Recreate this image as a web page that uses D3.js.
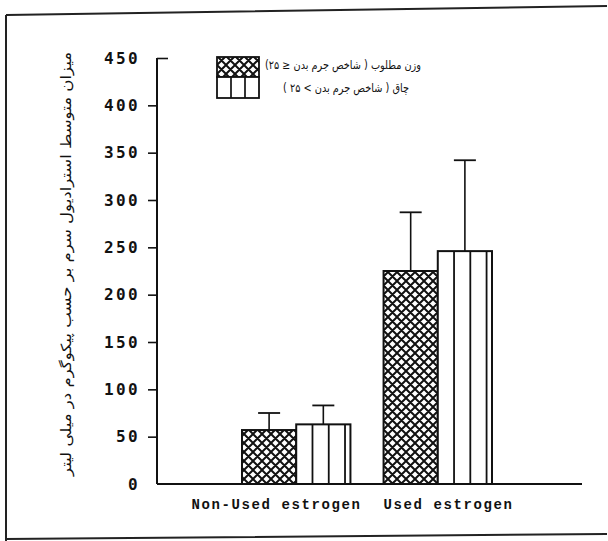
<!DOCTYPE html>
<html>
<head>
<meta charset="utf-8">
<script src="https://cdn.jsdelivr.net/npm/d3@7"></script>
<style>
  body { margin: 0; background: #fff; }
</style>
</head>
<body>
<div id="chart"></div>
<script>
const categories = ["Non-Used estrogen", "Used estrogen"];
const seriesNames = ["وزن مطلوب ( شاخص جرم بدن ≤ ۲۵)", "چاق ( شاخص جرم بدن > ۲۵ )"];
const normalMeans = [57, 225];
const normalErrTops = [75, 287];
const obeseMeans = [63, 246];
const obeseErrTops = [83, 342];
const yTicks = [0, 50, 100, 150, 200, 250, 300, 350, 400, 450];
const yLabel = "میزان متوسط استرادیول سرم بر حسب پیکوگرم در میلی لیتر";

const width = 608, height = 541;

const svg = d3.select("#chart").append("svg")
    .attr("width", width)
    .attr("height", height);

const defs = svg.append("defs");
const hatch = defs.append("pattern")
    .attr("id", "hatch")
    .attr("patternUnits", "userSpaceOnUse")
    .attr("width", 9)
    .attr("height", 9)
    .attr("x", 1).attr("y", 2);
hatch.append("rect").attr("width", 9).attr("height", 9).attr("fill", "#fff");
hatch.append("path")
    .attr("d", "M0,0 L9,9 M9,0 L0,9 M-1,8 L1,10 M8,-1 L10,1 M-1,1 L1,-1 M8,10 L10,8")
    .attr("stroke", "#111")
    .attr("stroke-width", 2);

// outer frame (the scan is slightly skewed)
svg.append("path")
    .attr("d", "M6,15 L607,6 M6,15 L6,541 M5,539 L607,534")
    .attr("fill", "none")
    .attr("stroke", "#222")
    .attr("stroke-width", 2);

const y = d3.scaleLinear().domain([0, 450]).range([484, 58]);
const x = d3.scaleBand().domain(categories).range([242, 492]).paddingInner(0.234).paddingOuter(0);
const xs = d3.scaleBand().domain([0, 1]).range([0, x.bandwidth()]);

const rows = [];
categories.forEach((c, i) => {
    rows.push({ cat: c, s: 0, v: normalMeans[i], e: normalErrTops[i] });
    rows.push({ cat: c, s: 1, v: obeseMeans[i], e: obeseErrTops[i] });
});

// y axis
const axisX = 157;
const yAxis = svg.append("g")
    .attr("transform", `translate(${axisX},0)`)
    .call(d3.axisLeft(y).tickValues(yTicks).tickSize(9).tickPadding(8));
yAxis.select(".domain").attr("stroke", "#111").attr("stroke-width", 2).attr("d", `M0,${y(450)}V${y(0)}`);
yAxis.selectAll(".tick line").attr("stroke", "#111").attr("stroke-width", 1.6);
yAxis.selectAll(".tick").filter(d => d === 450).select("line").attr("x2", 11);
yAxis.selectAll(".tick").filter(d => d === 0).select("line").remove();
yAxis.selectAll(".tick text")
    .attr("font-family", "DejaVu Sans Mono")
    .attr("font-weight", "bold")
    .attr("font-size", 16)
    .attr("letter-spacing", 2.4)
    .attr("fill", "#111");

// x axis line
svg.append("line")
    .attr("x1", axisX).attr("x2", 582)
    .attr("y1", y(0)).attr("y2", y(0))
    .attr("stroke", "#111").attr("stroke-width", 2);

// bars
const bars = svg.append("g");
bars.selectAll("rect")
    .data(rows)
    .enter().append("rect")
    .attr("x", d => x(d.cat) + xs(d.s))
    .attr("y", d => y(d.v))
    .attr("width", xs.bandwidth())
    .attr("height", d => y(0) - y(d.v))
    .attr("fill", d => d.s === 0 ? "url(#hatch)" : "#fff")
    .attr("stroke", "#111")
    .attr("stroke-width", 2);

// vertical stripes for the obese series
const stripeSteps = [0.3, 0.6, 0.9];
rows.filter(d => d.s === 1).forEach(d => {
    stripeSteps.forEach(f => {
        const sx = x(d.cat) + xs(d.s) + xs.bandwidth() * f;
        bars.append("line")
            .attr("x1", sx).attr("x2", sx)
            .attr("y1", y(d.v)).attr("y2", y(0))
            .attr("stroke", "#111").attr("stroke-width", 1.8);
    });
});

// error bars
const capW = 22;
const err = svg.append("g");
rows.forEach(d => {
    const cx = x(d.cat) + xs(d.s) + xs.bandwidth() / 2;
    err.append("line")
        .attr("x1", cx).attr("x2", cx)
        .attr("y1", y(d.v)).attr("y2", y(d.e))
        .attr("stroke", "#111").attr("stroke-width", 1.6);
    err.append("line")
        .attr("x1", cx - capW / 2).attr("x2", cx + capW / 2)
        .attr("y1", y(d.e)).attr("y2", y(d.e))
        .attr("stroke", "#111").attr("stroke-width", 1.8);
});

// category labels
svg.selectAll(".xlab")
    .data(categories)
    .enter().append("text")
    .attr("class", "xlab")
    .attr("x", (d, i) => i === 0 ? x(d) + x.bandwidth() + 11 : x(d))
    .attr("y", 509)
    .attr("text-anchor", (d, i) => i === 0 ? "end" : "start")
    .attr("font-family", "Liberation Mono")
    .attr("font-weight", "bold")
    .attr("font-size", 14)
    .attr("letter-spacing", 1.6)
    .attr("fill", "#111")
    .text(d => d);

// y label
svg.append("text")
    .attr("transform", "translate(71,264) rotate(-90)")
    .attr("text-anchor", "middle")
    .attr("font-family", "DejaVu Sans")
    .attr("font-size", 14)
    .attr("textLength", 424)
    .attr("lengthAdjust", "spacingAndGlyphs")
    .attr("fill", "#111")
    .text(yLabel);

// legend
const legend = svg.append("g");
const swatchY = [57, 77];
const swatchH = [20, 21];
const legendRight = [421, 409];
const legendLen = [156, 126];
seriesNames.forEach((name, i) => {
    legend.append("rect")
        .attr("x", 217).attr("y", swatchY[i])
        .attr("width", 42).attr("height", swatchH[i])
        .attr("fill", i === 0 ? "url(#hatch)" : "#fff")
        .attr("stroke", "#111").attr("stroke-width", 1.8);
    if (i === 1) {
        [231, 245].forEach(lx => {
            legend.append("line")
                .attr("x1", lx).attr("x2", lx)
                .attr("y1", swatchY[i]).attr("y2", swatchY[i] + swatchH[i])
                .attr("stroke", "#111").attr("stroke-width", 1.7);
        });
    }
    legend.append("text")
        .attr("x", legendRight[i] - legendLen[i])
        .attr("y", i === 0 ? 69 : 92)
        .attr("text-anchor", "start")
        .attr("font-family", "DejaVu Sans")
        .attr("font-size", 11.5)
        .attr("textLength", legendLen[i])
        .attr("lengthAdjust", "spacingAndGlyphs")
        .attr("fill", "#111")
        .text(name);
});
</script>
</body>
</html>
